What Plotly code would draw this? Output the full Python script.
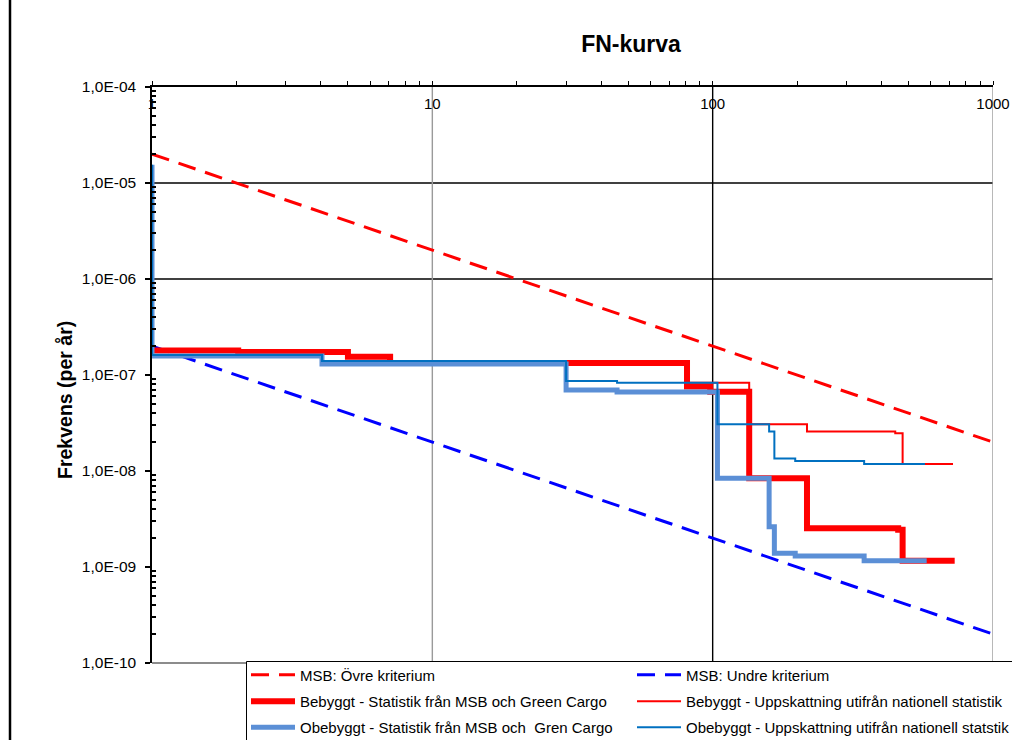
import plotly.graph_objects as go

# ---------------- data ----------------
N_upper = [1, 1000]
F_upper = [2e-5, 2e-8]
N_lower = [1, 1000]
F_lower = [2e-7, 2e-10]

bebyggt_msb_N = [1, 2.03, 5.0, 7.07, 81, 98, 135, 217, 459, 476, 730]
bebyggt_msb_F = [1.80e-7, 1.74e-7, 1.55e-7, 1.33e-7, 7.6e-8, 6.7e-8, 8.4e-9, 2.53e-9, 2.45e-9, 1.16e-9, 1.16e-9]

bebyggt_nat_N = [1, 2.03, 5.0, 7.07, 81, 135, 217, 448, 476, 720]
bebyggt_nat_F = [1.80e-7, 1.74e-7, 1.55e-7, 1.33e-7, 8.3e-8, 3.07e-8, 2.58e-8, 2.48e-8, 1.18e-8, 1.18e-8]

obebyggt_msb_N = [1, 1, 4.04, 30, 45.6, 104, 159, 166, 197, 347, 580]
obebyggt_msb_F = [1.55e-5, 1.58e-7, 1.30e-7, 6.98e-8, 6.65e-8, 8.4e-9, 2.63e-9, 1.39e-9, 1.30e-9, 1.16e-9, 1.16e-9]

obebyggt_nat_N = [1, 1, 4.04, 30, 45.6, 104, 159, 166, 197, 347, 572]
obebyggt_nat_F = [1.55e-5, 1.62e-7, 1.40e-7, 8.66e-8, 8.3e-8, 3.07e-8, 2.58e-8, 1.35e-8, 1.27e-8, 1.18e-8, 1.18e-8]

x_tickvals = [1, 10, 100, 1000]
x_ticktext = ["1", "10", "100", "1000"]
y_tickvals = [1e-4, 1e-5, 1e-6, 1e-7, 1e-8, 1e-9, 1e-10]
y_ticktext = ["1,0E-04", "1,0E-05", "1,0E-06", "1,0E-07", "1,0E-08", "1,0E-09", "1,0E-10"]

names = [
    "MSB: Övre kriterium",
    "MSB: Undre kriterium",
    "Bebyggt - Statistik från MSB och Green Cargo",
    "Bebyggt - Uppskattning utifrån nationell statistik",
    "Obebyggt - Statistik från MSB och  Gren Cargo",
    "Obebyggt - Uppskattning utifrån nationell statstik",
]

h_grid_F = [1e-5, 1e-6]
v_grid_N = [10, 100, 1000]
v_grid_colors = ["#9A9A9A", "black", "#9A9A9A"]

# ---------------- figure ----------------
W, H = 1012, 740
L, R, T, B = 152, 19, 87, 77
pw, ph = W - L - R, H - T - B

def px_x(px):
    return (px - L) / pw

def px_y(py):
    return (H - B - py) / ph

fig = go.Figure()
dash = "18px,10px"
fig.add_trace(go.Scatter(x=N_upper, y=F_upper, mode="lines", name=names[0], legend="legend",
                         line=dict(color="#FF0000", width=3, dash=dash)))
fig.add_trace(go.Scatter(x=N_lower, y=F_lower, mode="lines", name=names[1], legend="legend",
                         line=dict(color="#0000FF", width=3, dash=dash)))
fig.add_trace(go.Scatter(x=bebyggt_msb_N, y=bebyggt_msb_F, mode="lines", name=names[2], legend="legend2",
                         line=dict(color="#FF0000", width=6, shape="hv")))
fig.add_trace(go.Scatter(x=bebyggt_nat_N, y=bebyggt_nat_F, mode="lines", name=names[3], legend="legend2",
                         line=dict(color="#FF0000", width=2, shape="hv")))
fig.add_trace(go.Scatter(x=obebyggt_msb_N, y=obebyggt_msb_F, mode="lines", name=names[4], legend="legend3",
                         line=dict(color="#5B8FD6", width=5, shape="hv")))
fig.add_trace(go.Scatter(x=obebyggt_nat_N, y=obebyggt_nat_F, mode="lines", name=names[5], legend="legend3",
                         line=dict(color="#0070C0", width=2, shape="hv")))

shapes = []
for f in h_grid_F:
    shapes.append(dict(type="line", xref="paper", yref="y", x0=0, x1=1, y0=f, y1=f,
                       line=dict(color="black", width=1.5), layer="below"))
for n, c in zip(v_grid_N, v_grid_colors):
    shapes.append(dict(type="line", xref="x", yref="paper", x0=n, x1=n, y0=0, y1=1,
                       line=dict(color=c, width=1.4), layer="below"))
# bottom plot-area border (grey)
shapes.append(dict(type="line", xref="paper", yref="paper", x0=0, x1=1, y0=0, y1=0,
                   line=dict(color="#8C8C8C", width=2), layer="above"))
# chart border on the left
shapes.append(dict(type="line", xref="paper", yref="paper", x0=px_x(10), x1=px_x(10),
                   y0=px_y(-5), y1=px_y(745), line=dict(color="black", width=2.5)))
# legend box
shapes.append(dict(type="rect", xref="paper", yref="paper", x0=px_x(246.5), x1=px_x(1020),
                   y0=px_y(661.5), y1=px_y(750), line=dict(color="black", width=1),
                   fillcolor="white", layer="above"))

legend_font = dict(family="Liberation Sans, Arial", size=15, color="black")
legend_common = dict(orientation="h", xanchor="left", yanchor="middle", x=px_x(246),
                     itemwidth=44, entrywidth=327, entrywidthmode="pixels",
                     bgcolor="rgba(0,0,0,0)", borderwidth=0, font=legend_font,
                     itemclick=False, itemdoubleclick=False)

minor_y = [k * 10.0 ** e for e in range(-10, -4) for k in range(2, 10)]
minor_x = [k * 10.0 ** e for e in range(0, 3) for k in range(2, 10)]

fig.update_layout(
    width=W, height=H,
    margin=dict(l=L, r=R, t=T, b=B, pad=0, autoexpand=False),
    paper_bgcolor="white", plot_bgcolor="white",
    font=dict(family="Liberation Sans, Arial", color="black"),
    title=dict(text="<b>FN-kurva</b>", x=631 / W, xanchor="center", y=1 - 43.5 / H, yanchor="middle",
               font=dict(family="Liberation Sans, Arial", size=23, color="black")),
    showlegend=True,
    legend=dict(**legend_common, y=px_y(675)),
    legend2=dict(**legend_common, y=px_y(701.5)),
    legend3=dict(**legend_common, y=px_y(727.5)),
    shapes=shapes,
    annotations=[dict(text="<b>Frekvens (per år)</b>", xref="paper", yref="paper",
                      x=px_x(52), y=px_y(400), textangle=-90, showarrow=False,
                      font=dict(family="Liberation Sans, Arial", size=19.5, color="black"))],
)

fig.update_xaxes(
    type="log", range=[0, 3], side="top",
    tickmode="array", tickvals=x_tickvals, ticktext=x_ticktext,
    ticks="outside", ticklen=4, tickwidth=1, tickcolor="black",
    ticklabelposition="outside", ticklabelstandoff=-34, tickfont=dict(size=15, color="black"),
    showline=True, linecolor="black", linewidth=2,
    showgrid=False, zeroline=False,
    minor=dict(tickmode="array", tickvals=minor_x, ticks="outside", ticklen=4, tickcolor="black",
               showgrid=False),
)
fig.update_yaxes(
    type="log", range=[-10, -4],
    tickmode="array", tickvals=y_tickvals, ticktext=y_ticktext,
    ticks="outside", ticklen=5, tickwidth=1.5, tickcolor="black",
    tickfont=dict(size=15.5, color="black"), ticklabelstandoff=6,
    showline=True, linecolor="black", linewidth=1.5,
    showgrid=False, zeroline=False,
    minor=dict(tickmode="array", tickvals=minor_y, ticks="inside", ticklen=4, tickcolor="black",
               showgrid=False),
)

fig.write_html("out.html", config={"displayModeBar": False},
               post_script="document.body.style.margin='0px';")
